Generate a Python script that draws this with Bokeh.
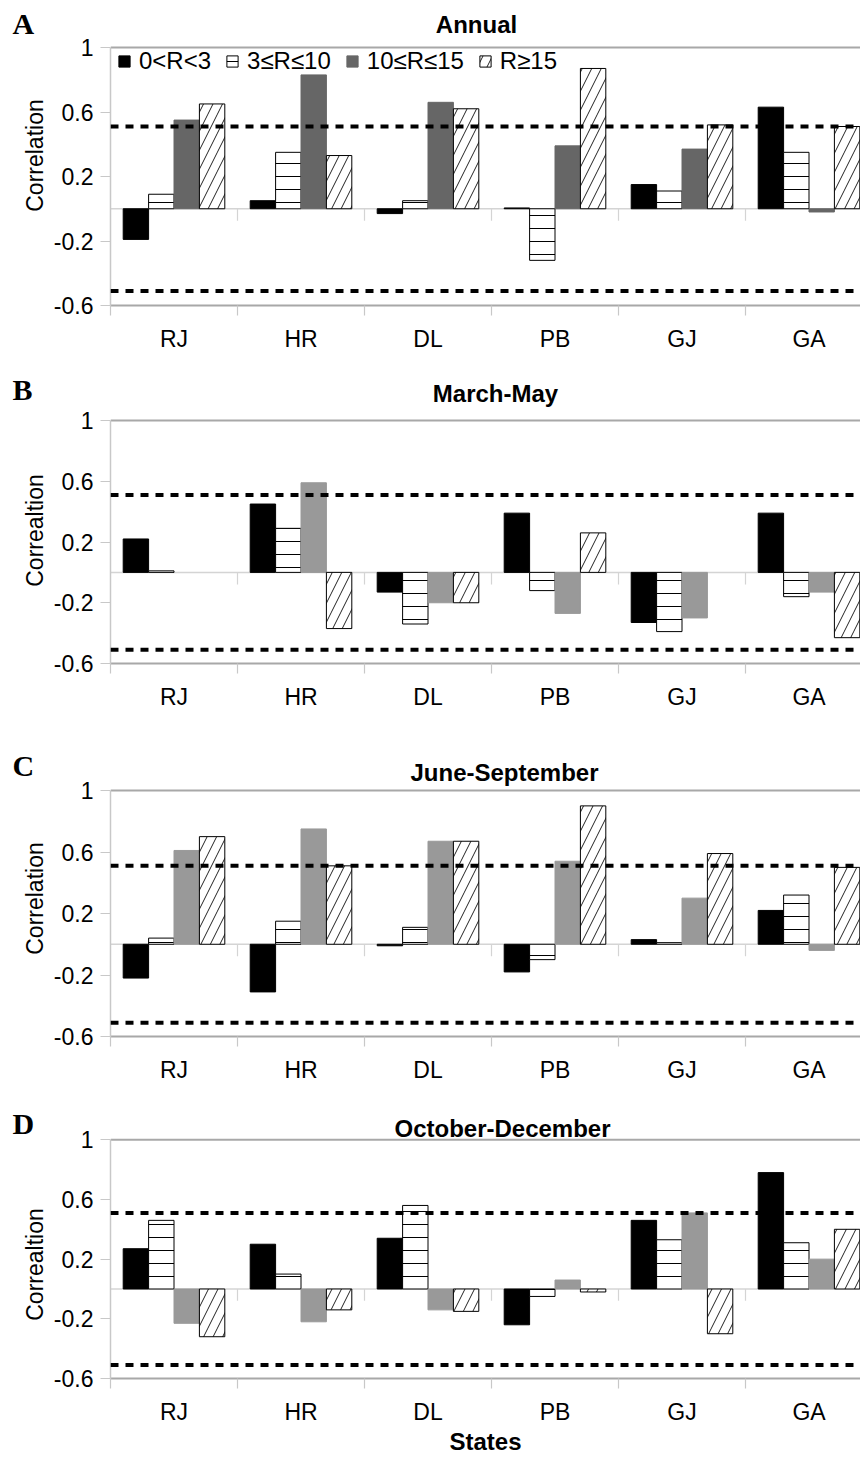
import math
from bokeh.plotting import figure
from bokeh.models import Range1d, FixedTicker, Span, Legend, LegendItem
from bokeh.core.properties import value
from bokeh.layouts import column, row
from bokeh.embed import file_html
from bokeh.resources import INLINE

nan = float("nan")

states = ["RJ", "HR", "DL", "PB", "GJ", "GA"]
series_names = ["0<R<3", "3\u2264R\u226410", "10\u2264R\u226415", "R\u226515"]
y_ticks = [-0.6, -0.2, 0.2, 0.6, 1]
y_tick_labels = ["-0.6", "-0.2", "0.2", "0.6", "1"]
threshold = 0.51
panel_letters = ["A", "B", "C", "D"]
panel_titles = ["Annual", "March-May", "June-September", "October-December"]
panel_ylabels = ["Correlation", "Correaltion", "Correlation", "Correaltion"]

annual_r0_3 = [-0.19, 0.05, -0.03, 0.005, 0.15, 0.63]
annual_r3_10 = [0.09, 0.35, 0.05, -0.32, 0.11, 0.35]
annual_r10_15 = [0.55, 0.83, 0.66, 0.39, 0.37, -0.02]
annual_r15 = [0.65, 0.33, 0.62, 0.87, 0.52, 0.51]

mam_r0_3 = [0.22, 0.45, -0.13, 0.39, -0.33, 0.39]
mam_r3_10 = [0.01, 0.29, -0.34, -0.12, -0.39, -0.16]
mam_r10_15 = [nan, 0.59, -0.20, -0.27, -0.30, -0.13]
mam_r15 = [nan, -0.37, -0.20, 0.26, nan, -0.43]

jjas_r0_3 = [-0.22, -0.31, -0.01, -0.18, 0.03, 0.22]
jjas_r3_10 = [0.04, 0.15, 0.11, -0.10, 0.01, 0.32]
jjas_r10_15 = [0.61, 0.75, 0.67, 0.54, 0.30, -0.04]
jjas_r15 = [0.70, 0.51, 0.67, 0.90, 0.59, 0.50]

ond_r0_3 = [0.27, 0.30, 0.34, -0.24, 0.46, 0.78]
ond_r3_10 = [0.46, 0.10, 0.56, -0.05, 0.33, 0.31]
ond_r10_15 = [-0.23, -0.22, -0.14, 0.06, 0.51, 0.20]
ond_r15 = [-0.32, -0.14, -0.15, -0.02, -0.30, 0.40]

FONT = "Liberation Sans"
PX_PER_CAT = 127.0
STRIP_W = 50
LEFT = 110
WIDTH = 860
XMAX = (WIDTH - LEFT) / PX_PER_CAT


def make_panel(title, data, gray, height, top, frame_h,
               title_dy, title_px, legend=False, xlabel=None):
    """top: pixels from figure top to the y=1 line; frame_h: pixels from y=1 to y=-0.6"""
    ppu = frame_h / 1.6
    bottom = height - top - frame_h
    p = figure(width=WIDTH - STRIP_W, height=height, output_backend="svg",
               toolbar_location=None,
               x_range=Range1d(0, XMAX), y_range=Range1d(-0.6, 1 + top / ppu),
               min_border_left=LEFT - STRIP_W, min_border_right=0,
               min_border_top=0, min_border_bottom=bottom)
    p.outline_line_color = None
    p.xgrid.visible = False
    p.ygrid.visible = False

    # zero line and top line
    p.add_layout(Span(location=0, dimension="width", line_color="#d4d4d4",
                      line_width=1.5, level="underlay"))
    p.add_layout(Span(location=1, dimension="width", line_color="#a8a8a8",
                      line_width=2, level="underlay"))
    bx = list(range(1, 6))
    p.segment(x0=bx, y0=[0] * len(bx), x1=bx, y1=[-12 / ppu] * len(bx),
              line_color="#d4d4d4", line_width=1.2)

    styles = [
        dict(fill_color="black", line_color="black"),
        dict(fill_color="white", line_color="black", hatch_pattern="horizontal_line",
             hatch_scale=13, hatch_color="black", hatch_weight=1),
        dict(fill_color=gray, line_color=gray),
        dict(fill_color="white", line_color="black", hatch_pattern="right_diagonal_line",
             hatch_scale=19, hatch_color="#222222", hatch_weight=1),
    ]
    renderers = []
    for j, vals in enumerate(data):
        xs = [i + 0.2 + 0.2 * j for i in range(len(states))]
        r = p.vbar(x=xs, top=vals, bottom=[0] * len(vals), width=0.2, line_width=1,
                   **styles[j])
        renderers.append(r)

    for loc in (threshold, -threshold):
        p.add_layout(Span(location=loc, dimension="width", line_color="black",
                          line_width=4, line_dash="8 7", level="overlay"))

    # title inside the (extended) frame
    p.text(x=[(title_px - LEFT) / PX_PER_CAT], y=[1 + title_dy / ppu], text=[title],
           text_font=value(FONT), text_font_size="24px", text_font_style="bold",
           text_align="center", text_baseline="middle", text_color="black")

    # y axis
    ya = p.yaxis[0]
    ya.bounds = (-0.6, 1)
    ya.ticker = FixedTicker(ticks=y_ticks)
    ya.major_label_overrides = {t: s for t, s in zip(y_ticks, y_tick_labels)}
    ya.major_label_text_font = FONT
    ya.major_label_text_font_size = "23px"
    ya.major_label_text_color = "black"
    ya.major_label_standoff = 7
    ya.major_tick_out = 10
    ya.major_tick_in = 0
    ya.minor_tick_out = 0
    ya.minor_tick_in = 0
    ya.major_tick_line_color = "#c8c8c8"
    ya.axis_line_color = "#c8c8c8"
    ya.axis_line_width = 1.5

    # x axis
    xa = p.xaxis[0]
    centers = [i + 0.5 for i in range(len(states))]
    xa.ticker = FixedTicker(ticks=centers, minor_ticks=list(range(0, 7)))
    xa.major_label_overrides = {c: s for c, s in zip(centers, states)}
    xa.major_label_text_font = FONT
    xa.major_label_text_font_size = "23px"
    xa.major_label_text_color = "black"
    xa.major_label_standoff = 10
    xa.major_tick_out = 0
    xa.major_tick_in = 0
    xa.minor_tick_out = 10
    xa.minor_tick_in = 0
    xa.minor_tick_line_color = "#c8c8c8"
    xa.minor_tick_line_width = 1.2
    xa.axis_line_color = "#a8a8a8"
    xa.axis_line_width = 2
    if xlabel:
        xa.axis_label = xlabel
        xa.axis_label_text_font = FONT
        xa.axis_label_text_font_size = "24px"
        xa.axis_label_text_font_style = "bold"
        xa.axis_label_text_color = "black"
        xa.axis_label_standoff = 0

    if legend:
        items = [LegendItem(label=n, renderers=[r]) for n, r in zip(series_names, renderers)]
        lg = Legend(items=items, orientation="horizontal", location=(7, frame_h - 28),
                    background_fill_alpha=0, border_line_color=None,
                    padding=0, margin=0, spacing=14, label_standoff=8,
                    glyph_width=14, glyph_height=14,
                    label_text_font=FONT, label_text_font_size="24px",
                    label_text_color="black")
        p.add_layout(lg)
    return p


pA = make_panel(panel_titles[0],
                [annual_r0_3, annual_r3_10, annual_r10_15, annual_r15], "#666666",
                height=365, top=47, frame_h=258, title_dy=23, title_px=476, legend=True)
pB = make_panel(panel_titles[1],
                [mam_r0_3, mam_r3_10, mam_r10_15, mam_r15], "#999999",
                height=375, top=55, frame_h=243, title_dy=27, title_px=495)
pC = make_panel(panel_titles[2],
                [jjas_r0_3, jjas_r3_10, jjas_r10_15, jjas_r15], "#999999",
                height=360, top=50, frame_h=246, title_dy=18, title_px=504)
pD = make_panel(panel_titles[3],
                [ond_r0_3, ond_r3_10, ond_r10_15, ond_r15], "#999999",
                height=357, top=40, frame_h=243, title_dy=12, title_px=502,
                xlabel="States")

total_h = 365 + 375 + 360 + 357
# left strip holding the panel letters and the y-axis titles (pixel-like coordinates)
pL = figure(width=STRIP_W, height=total_h, output_backend="svg", toolbar_location=None,
            x_range=Range1d(0, STRIP_W), y_range=Range1d(0, total_h),
            x_axis_type=None, y_axis_type=None, min_border=0)
pL.outline_line_color = None
pL.xgrid.visible = False
pL.ygrid.visible = False
letter_y = [23, 389, 765, 1123]
pL.text(x=[12] * 4, y=[total_h - v for v in letter_y], text=panel_letters,
        text_font=value("Liberation Serif"), text_font_size="30px", text_font_style="bold",
        text_align="left", text_baseline="middle", text_color="black")
ylabel_y = [155, 530, 898, 1264]
pL.text(x=[34] * 4, y=[total_h - v for v in ylabel_y], text=panel_ylabels,
        angle=math.pi / 2,
        text_font=value(FONT), text_font_size="23px",
        text_align="center", text_baseline="middle", text_color="black")

layout = row(pL, column(pA, pB, pC, pD, spacing=0), spacing=0)
open("out.html", "w").write(file_html(layout, INLINE))
